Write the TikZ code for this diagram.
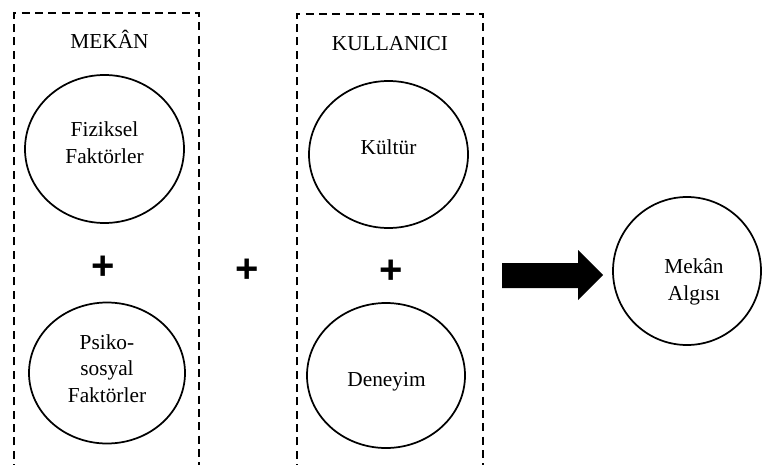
\documentclass[tikz,border=0pt]{standalone}
\usepackage{fontspec}
\setmainfont{Liberation Serif}
\newfontfamily\plusfont{Liberation Sans}
\usetikzlibrary{shapes.geometric}
\begin{document}
\begin{tikzpicture}[x=0.75pt,y=-0.75pt,
  bubble/.style={ellipse, draw, line width=1.3pt, inner sep=0pt},
  txt/.style={font=\fontsize{16}{20}\selectfont, align=center, inner sep=0pt},
  plussign/.style={font=\plusfont\bfseries\fontsize{30}{30}\selectfont, inner sep=0pt},
  groupbox/.style={draw, line width=1.5pt, dash pattern=on 6pt off 4pt},
  bigarrow/.style={fill=black}]
\fill[white] (0,0) rectangle (763,464);
\useasboundingbox (0,0) rectangle (763,464);

% group frames (open at the bottom, running off the page)
\draw[groupbox] (14,472) -- (14,13) -- (199,13) -- (199,472);
\draw[groupbox] (297,472) -- (297,14) -- (483,14) -- (483,472);

% titles
\node[txt, anchor=base] (mekan) at (109.5,48.5) {MEKÂN};
\node[txt, anchor=base] (kull) at (390,50) {KULLANICI};

% circles
\node[bubble, minimum width=119.25pt, minimum height=111pt] (fiz) at (104.5,149) {};
\node[txt] (fizt) at (104.5,143) {Fiziksel\\Faktörler};

\node[bubble, minimum width=117pt, minimum height=105.75pt] (psi) at (107,373) {};
\node[txt] (psit) at (107,368.5) {Psiko-\\sosyal\\Faktörler};

\node[bubble, minimum width=119.25pt, minimum height=110.25pt] (kul) at (388.5,154.5) {};
\node[txt] (kult) at (388.5,147.5) {Kültür};

\node[bubble, minimum width=118.5pt, minimum height=108.75pt] (den) at (386,375.5) {};
\node[txt] (dent) at (386.5,382) {Deneyim};

\node[bubble, minimum width=111pt, minimum height=111pt] (alg) at (687,271) {};
\node[txt] (algt) at (694,282) {Mekân\\Algısı};

% plus signs
\node[plussign] (p1) at (103,267.7) {+};
\node[plussign] (p2) at (247,270.7) {+};
\node[plussign] (p3) at (391,271.7) {+};

% block arrow
\path[bigarrow] (502,263) -- (578,263) -- (578,250) -- (603,275) -- (578,300) -- (578,288) -- (502,288) -- cycle;
\end{tikzpicture}
\end{document}
